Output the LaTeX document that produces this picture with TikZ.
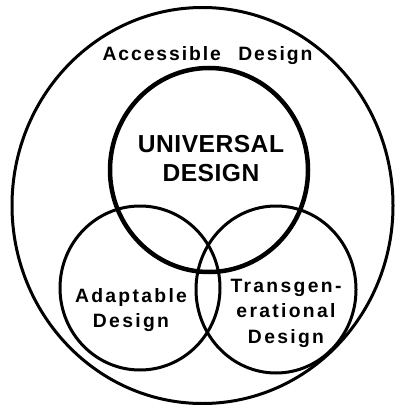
\documentclass[tikz,border=0pt]{standalone}
\usepackage{fontspec}
\setmainfont{Liberation Sans}

\begin{document}
\begin{tikzpicture}[x=0.02cm, y=-0.02cm, line width=0.06cm,
  lbl/.style={font=\bfseries\fontsize{11}{14.5}\selectfont\addfontfeature{LetterSpace=12}, align=center, inner sep=0pt},
  bigl/.style={font=\bfseries\fontsize{14}{17}\selectfont\addfontfeature{LetterSpace=2}, align=center, inner sep=0pt}]
\useasboundingbox (0,0) rectangle (395,405);

\draw (202.5,205.5) ellipse [x radius=190.5, y radius=198];%accessible
\draw[line width=0.09cm] (209,170) ellipse [x radius=99, y radius=102];%universal
\draw (140,288) ellipse [x radius=80, y radius=82];%adaptable
\draw (276,289.5) ellipse [x radius=80, y radius=83.5];%transgen.

\node[lbl, anchor=base, font=\bfseries\fontsize{11}{14.5}\selectfont\addfontfeature{LetterSpace=10}] (acc) at (207.5,61) {Accessible\hskip 0.9em Design};
\node[bigl] (univ) at (211,158.5) {UNIVERSAL\\DESIGN};
\node[lbl] (adapt) at (131,310) {Adaptable\\Design};
\node[lbl] (trans) at (286,313) {Transgen-\\erational\\Design};
% px coords, y down; circles a bit taller than wide in the scan
\end{tikzpicture}
\end{document}
